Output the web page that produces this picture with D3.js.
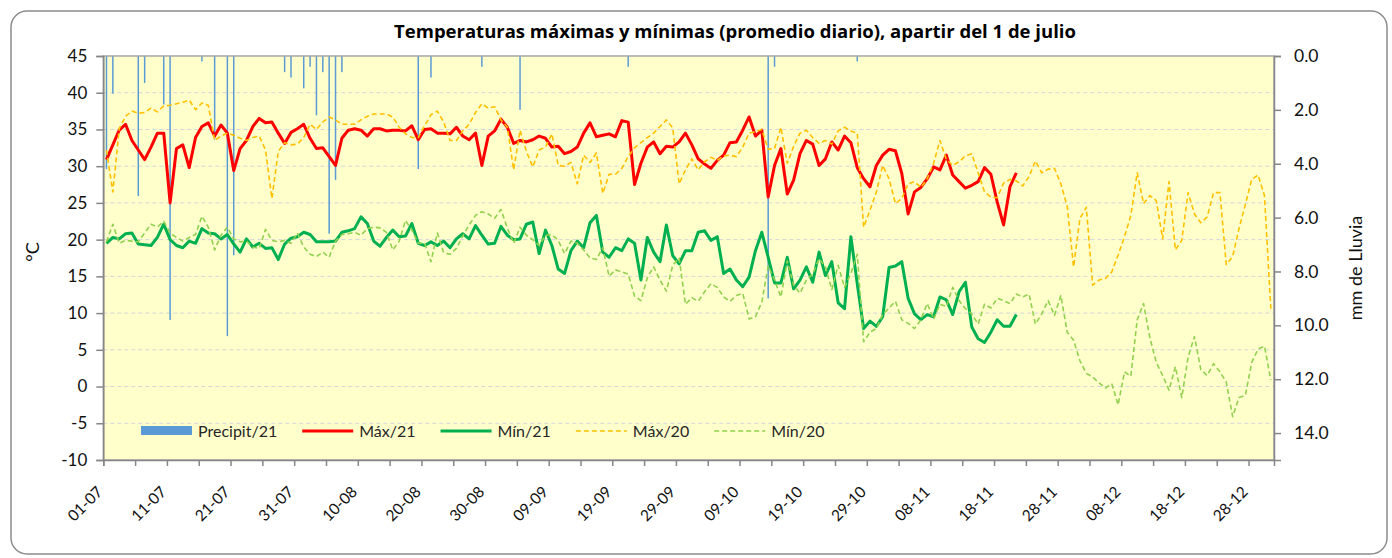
<!DOCTYPE html>
<html>
<head>
<meta charset="utf-8">
<script src="https://cdn.jsdelivr.net/npm/d3@7"></script>
<style>
  body { margin: 0; background: #fff; }
  svg { display: block; }
  text { font-family: Lato, "Open Sans", sans-serif; }
</style>
</head>
<body>
<svg></svg>
<script>
// Days counted from 1 July 2021 (index 0)
const start_date = new Date(2021, 6, 1)
const end_date = new Date(2022, 0, 1)

// Daily rain 2021 (mm), index = day since 1 July
const precip21 = [
  4.2, 1.4, 0, 0, 0, 5.2, 1.0, 0, 0, 1.8,
  9.8, 0, 0, 0, 0, 0.2, 0, 3.1, 0, 10.4,
  7.4, 0, 0, 0, 0, 0, 0, 0, 0.6, 0.8,
  0, 1.2, 0.4, 2.2, 0.6, 6.6, 4.6, 0.6, 0, 0,
  0, 0, 0, 0, 0, 0, 0, 0, 0, 4.2,
  0, 0.8, 0, 0, 0, 0, 0, 0, 0, 0.4,
  0, 0, 0, 0, 0, 2.0, 0, 0, 0, 0,
  0, 0, 0, 0, 0, 0, 0, 0, 0, 0,
  0, 0, 0.4, 0, 0, 0, 0, 0, 0, 0,
  0, 0, 0, 0, 0, 0, 0, 0, 0, 0,
  0, 0, 0, 0, 9.0, 0.4, 0, 0, 0, 0,
  0, 0, 0, 0, 0, 0, 0, 0, 0.2, 0,
  0, 0, 0, 0, 0, 0, 0, 0, 0, 0,
  0, 0, 0, 0, 0, 0, 0, 0, 0, 0,
  0, 0, 0, 0
]

const max21 = [
  30.9, 32.9, 34.9, 35.7, 33.5, 32.2, 30.9, 32.6, 34.5, 34.5,
  25.0, 32.4, 32.9, 29.8, 33.9, 35.4, 35.9, 34.1, 35.6, 34.5,
  29.4, 32.4, 33.5, 35.4, 36.5, 35.9, 36.0, 34.5, 33.1, 34.6,
  35.1, 35.7, 33.8, 32.4, 32.5, 31.3, 30.1, 33.8, 34.9, 35.1,
  34.9, 34.1, 35.1, 35.1, 34.8, 34.9, 34.9, 34.8, 35.5, 33.6,
  35.0, 35.1, 34.5, 34.5, 34.4, 35.3, 34.1, 33.6, 34.5, 30.1,
  34.1, 34.8, 36.4, 35.3, 33.1, 33.5, 33.3, 33.6, 34.1, 33.8,
  32.6, 32.7, 31.7, 32.0, 32.6, 34.5, 35.9, 34.0, 34.2, 34.4,
  34.0, 36.2, 36.0, 27.5, 30.4, 32.6, 33.3, 31.7, 32.7, 32.6,
  33.3, 34.5, 32.9, 31.0, 30.3, 29.7, 30.8, 31.5, 33.2, 33.3,
  34.9, 36.7, 34.1, 34.9, 25.8, 30.1, 32.4, 26.2, 28.1, 31.7,
  33.5, 33.0, 30.1, 31.0, 33.3, 32.2, 34.1, 33.2, 29.8, 28.3,
  27.2, 30.1, 31.5, 32.3, 32.1, 29.0, 23.5, 26.5, 27.1, 28.3,
  29.9, 29.5, 31.5, 28.8, 27.9, 27.0, 27.4, 27.9, 29.8, 28.9,
  25.1, 22.0, 27.2, 29.1
]

const min21 = [
  19.5, 20.3, 20.1, 20.8, 20.9, 19.4, 19.3, 19.2, 20.3, 22.1,
  20.0, 19.2, 18.9, 19.8, 19.5, 21.5, 20.9, 20.8, 20.1, 20.7,
  19.4, 18.3, 20.1, 19.0, 19.5, 18.8, 18.9, 17.3, 19.4, 20.2,
  20.4, 21.0, 20.7, 19.7, 19.7, 19.7, 19.8, 21.0, 21.2, 21.5,
  23.1, 22.2, 19.8, 19.1, 20.3, 21.3, 20.4, 20.5, 22.2, 19.5,
  19.2, 19.7, 19.2, 19.8, 18.9, 20.1, 20.8, 20.1, 21.9, 20.6,
  19.4, 19.5, 21.8, 20.6, 20.0, 20.1, 22.1, 22.4, 18.1, 21.3,
  19.2, 16.0, 15.4, 18.5, 19.8, 18.9, 22.3, 23.3, 18.3, 17.6,
  18.9, 18.5, 20.1, 19.5, 14.5, 20.3, 18.3, 17.0, 22.0, 17.8,
  16.7, 18.5, 18.5, 21.0, 21.2, 19.9, 20.4, 15.4, 16.0, 14.5,
  13.6, 14.9, 18.5, 21.0, 17.6, 14.1, 14.1, 17.6, 13.3, 14.5,
  16.3, 14.2, 18.3, 15.1, 17.0, 11.4, 10.6, 20.4, 14.0, 7.9,
  8.9, 8.2, 9.5, 16.2, 16.4, 17.0, 12.0, 9.9, 9.1, 9.8,
  9.5, 12.2, 11.8, 9.8, 12.9, 14.2, 8.1, 6.5, 6.0, 7.4,
  9.1, 8.2, 8.2, 9.8
]

const max20 = [
  32.2, 26.5, 35.1, 36.8, 37.5, 37.2, 37.3, 37.9, 37.4, 38.2,
  38.3, 38.5, 38.7, 39.0, 37.7, 38.6, 38.3, 33.5, 34.1, 34.5,
  34.2, 33.8, 33.5, 33.9, 34.1, 32.2, 25.6, 32.0, 33.2, 32.9,
  33.0, 33.9, 35.7, 35.0, 36.0, 36.7, 36.3, 35.7, 35.7, 35.7,
  36.3, 36.8, 37.1, 37.1, 37.1, 36.7, 35.3, 34.4, 33.9, 33.9,
  35.5, 37.0, 37.5, 36.0, 33.5, 33.5, 34.8, 35.7, 37.3, 38.5,
  37.9, 38.1, 36.3, 35.3, 29.5, 34.9, 32.0, 29.9, 32.2, 32.6,
  34.4, 30.1, 30.0, 30.5, 27.6, 31.5, 30.5, 31.8, 26.3, 28.9,
  28.9, 29.7, 31.3, 32.5, 33.2, 33.9, 34.5, 35.4, 36.3, 35.2,
  27.6, 29.5, 31.0, 29.5, 30.6, 31.2, 30.8, 31.4, 31.5, 31.3,
  32.6, 34.5, 34.7, 35.0, 32.3, 32.4, 35.3, 30.4, 32.7, 34.5,
  34.9, 33.9, 33.1, 33.5, 33.0, 34.8, 35.3, 34.8, 34.5, 21.7,
  24.0, 26.5, 30.1, 28.3, 24.9, 25.6, 27.6, 27.9, 27.1, 28.3,
  30.4, 33.5, 30.9, 30.1, 30.6, 31.4, 31.7, 29.1, 26.5, 25.8,
  25.7, 27.7, 28.2, 28.0, 27.3, 28.6, 30.7, 29.1, 29.6, 29.7,
  27.6, 24.5, 16.3, 22.9, 24.4, 13.8, 14.5, 14.7, 15.6, 17.9,
  20.4, 23.3, 29.1, 24.9, 26.0, 25.3, 20.1, 27.9, 18.6, 19.9,
  26.4, 23.5, 22.3, 23.1, 26.4, 26.4, 16.6, 17.7, 21.5, 24.8,
  28.2, 28.8, 26.0, 10.6
]

const min20 = [
  19.7, 22.1, 19.5, 19.9, 19.8, 19.7, 20.9, 22.1, 21.7, 22.5,
  20.9, 20.3, 19.8, 20.3, 20.7, 23.2, 21.7, 18.6, 20.6, 21.7,
  20.1, 19.7, 19.8, 19.0, 18.8, 21.4, 19.9, 19.7, 19.9, 19.5,
  20.9, 19.0, 18.0, 17.7, 18.3, 17.6, 19.8, 20.7, 20.8, 21.0,
  20.6, 21.5, 21.7, 21.6, 21.0, 18.6, 19.8, 22.6, 21.3, 19.5,
  19.5, 17.0, 20.9, 18.2, 18.0, 18.8, 20.5, 22.0, 23.3, 23.8,
  23.5, 22.9, 24.1, 21.6, 19.5, 21.7, 20.6, 20.0, 19.2, 20.6,
  20.7, 19.9, 18.1, 19.8, 19.5, 18.6, 17.5, 17.3, 18.9, 15.0,
  15.9, 15.6, 15.3, 12.3, 11.7, 14.8, 16.3, 14.5, 13.0, 16.5,
  17.5, 11.2, 12.1, 11.6, 12.9, 14.0, 13.5, 12.2, 11.6, 12.4,
  12.7, 9.2, 9.5, 11.5, 16.4, 14.5, 12.2, 17.1, 13.8, 12.7,
  14.5, 15.3, 17.4, 16.3, 13.2, 16.5, 13.5, 15.4, 18.0, 6.1,
  7.4, 7.9, 9.8, 10.7, 11.6, 9.1, 8.6, 7.9, 9.1, 11.3,
  9.2, 11.2, 10.9, 13.5, 11.7, 10.6, 9.9, 8.5, 11.2, 10.7,
  12.0, 11.7, 11.3, 12.6, 12.2, 12.6, 8.5, 9.9, 11.7, 9.7,
  12.4, 7.4, 6.3, 3.5, 1.8, 1.3, 0.5, -0.2, 0.4, -2.5,
  2.0, 1.4, 9.1, 11.3, 6.6, 3.3, 1.5, -0.5, 2.7, -1.5,
  4.0, 6.8, 2.3, 1.5, 3.1, 2.0, 0.6, -4.1, -1.5, -1.2,
  3.3, 5.1, 5.5, 0.9
]

const temp_ticks = d3.range(-10, 46, 5)
const rain_ticks = d3.range(0, 15, 2)
const date_ticks = d3.range(0, 184, 5)

const width = 1392
const height = 558
const plot = { left: 103.3, right: 1274, top: 56, bottom: 460 }

const svg = d3.select("svg")
    .attr("width", width)
    .attr("height", height)

// outer frame
svg.append("rect")
    .attr("x", 11).attr("y", 11)
    .attr("width", 1376).attr("height", 543)
    .attr("rx", 16)
    .attr("fill", "#fff")
    .attr("stroke", "#8c8c8c")
    .attr("stroke-width", 1.5)

// scales
const x = d3.scaleTime()
    .domain([start_date, end_date])
    .range([plot.left, plot.right])

const y = d3.scaleLinear()
    .domain([-10, 45])
    .range([plot.bottom, plot.top])

const y_rain = d3.scaleLinear()
    .domain([0, 15])
    .range([plot.top, plot.bottom])

const day = i => d3.timeDay.offset(start_date, i)
const day_mid = i => d3.timeHour.offset(day(i), 12)

// plot background
svg.append("rect")
    .attr("x", plot.left).attr("y", plot.top)
    .attr("width", plot.right - plot.left)
    .attr("height", plot.bottom - plot.top)
    .attr("fill", "#ffffcc")

// dashed gridlines
svg.append("g")
    .selectAll("line")
    .data(temp_ticks.filter(t => t > -10 && t < 45))
    .enter()
    .append("line")
    .attr("x1", plot.left).attr("x2", plot.right)
    .attr("y1", d => y(d)).attr("y2", d => y(d))
    .attr("stroke", "#d4d4dc")
    .attr("stroke-width", 1)
    .attr("stroke-dasharray", "4,3")

// rain bars hanging from the top
svg.append("g")
    .selectAll("rect")
    .data(precip21.map((v, i) => ({ v, i })).filter(d => d.v > 0))
    .enter()
    .append("rect")
    .attr("x", d => x(day_mid(d.i)) - 0.75)
    .attr("width", 1.5)
    .attr("y", y_rain(0))
    .attr("height", d => y_rain(d.v) - y_rain(0))
    .attr("fill", "#5b9bd5")

// temperature lines
const series = [
    { name: "Máx/21", values: max21, color: "#ff0000", width: 3, dash: null },
    { name: "Mín/21", values: min21, color: "#00b050", width: 3, dash: null },
    { name: "Máx/20", values: max20, color: "#ffc000", width: 1.6, dash: "5,3" },
    { name: "Mín/20", values: min20, color: "#92d050", width: 1.6, dash: "5,3" },
]

const line = d3.line()
    .x((d, i) => x(day_mid(i)))
    .y(d => y(d))

series.forEach(function(s) {
    svg.append("path")
        .datum(s.values)
        .attr("d", line)
        .attr("fill", "none")
        .attr("stroke", s.color)
        .attr("stroke-width", s.width)
        .attr("stroke-dasharray", s.dash)
        .attr("stroke-linejoin", "round")
})

// plot border
svg.append("rect")
    .attr("x", plot.left).attr("y", plot.top)
    .attr("width", plot.right - plot.left)
    .attr("height", plot.bottom - plot.top)
    .attr("fill", "none")
    .attr("stroke", "#a6a6a6")
    .attr("stroke-width", 1.5)

// axes
function styleAxis(g) {
    g.select(".domain").attr("stroke", "#868686").attr("stroke-width", 1.5)
    g.selectAll(".tick line").attr("stroke", "#868686").attr("stroke-width", 1.5)
    g.selectAll(".tick text")
        .attr("fill", "#111")
        .style("font-size", "17px")
}

svg.append("g")
    .attr("transform", `translate(${plot.left},0)`)
    .call(d3.axisLeft(y).tickValues(temp_ticks).tickSize(7).tickPadding(9)
        .tickFormat(d => String(d)))
    .call(styleAxis)

svg.append("g")
    .attr("transform", `translate(${plot.right},0)`)
    .call(d3.axisRight(y_rain).tickValues(rain_ticks).tickSize(7).tickPadding(13)
        .tickFormat(d3.format(".1f")))
    .call(styleAxis)
    .selectAll(".tick text")
    .style("font-size", "17.5px")

const fmt = d3.timeFormat("%d-%m")
const x_axis = svg.append("g")
    .attr("transform", `translate(0,${plot.bottom})`)
    .call(d3.axisBottom(x).tickValues(date_ticks.map(day)).tickSize(6)
        .tickFormat((d, i) => date_ticks[i] % 10 === 0 ? fmt(d) : ""))
    .call(styleAxis)

x_axis.selectAll(".tick text")
    .attr("text-anchor", "end")
    .attr("dy", "0.35em")
    .attr("transform", "translate(-4,29) rotate(-45)")
    .attr("y", 0)
    .style("font-size", "15.5px")

// axis titles
svg.append("text")
    .attr("transform", "translate(39,252) rotate(-90)")
    .attr("text-anchor", "middle")
    .style("font-size", "18px")
    .attr("fill", "#111")
    .text("°C")

svg.append("text")
    .attr("transform", "translate(1362,268) rotate(-90)")
    .attr("text-anchor", "middle")
    .style("font-size", "18px")
    .attr("fill", "#111")
    .text("mm de Lluvia")

// title
svg.append("text")
    .attr("x", 735).attr("y", 38)
    .attr("text-anchor", "middle")
    .style("font-family", "'Open Sans', Lato, sans-serif")
    .style("font-size", "18.5px")
    .style("font-weight", "bold")
    .attr("fill", "#000")
    .text("Temperaturas máximas y mínimas (promedio diario), apartir del 1 de julio")

// legend
const legend_items = [
    { name: "Precipit/21", color: "#5b9bd5", kind: "bar" },
].concat(series.map(s => ({ name: s.name, color: s.color, kind: "line", width: s.width, dash: s.dash })))

const legend = svg.append("g")
let lx = 141
const ly = 431
legend_items.forEach(function(item) {
    if (item.kind === "bar") {
        legend.append("rect")
            .attr("x", lx).attr("y", ly - 5)
            .attr("width", 51).attr("height", 9)
            .attr("fill", item.color)
    } else {
        legend.append("line")
            .attr("x1", lx).attr("x2", lx + 51)
            .attr("y1", ly).attr("y2", ly)
            .attr("stroke", item.color)
            .attr("stroke-width", item.width)
            .attr("stroke-dasharray", item.dash)
    }
    const t = legend.append("text")
        .attr("x", lx + 57).attr("y", ly + 6)
        .style("font-size", "16px")
        .attr("fill", "#262626")
        .text(item.name)
    lx += 57 + t.node().getComputedTextLength() + 25
})
</script>
</body>
</html>
